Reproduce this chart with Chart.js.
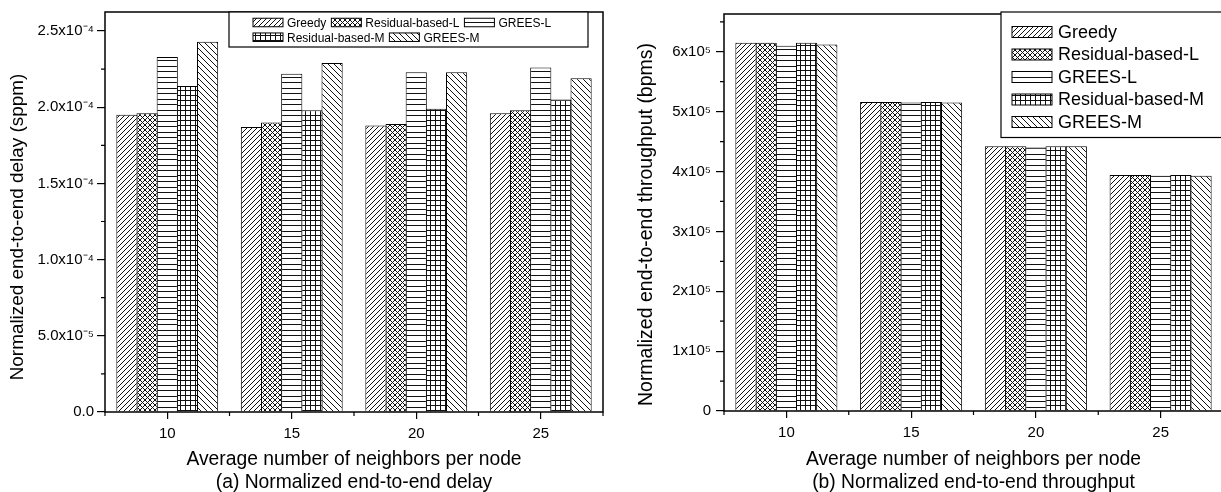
<!DOCTYPE html>
<html>
<head>
<meta charset="utf-8">
<script src="https://cdn.jsdelivr.net/npm/chart.js@4/dist/chart.umd.min.js"></script>
<style>
  html, body { margin: 0; padding: 0; background: #fff; overflow: hidden; }
  #wrap { position: relative; width: 1221px; height: 492px; overflow: hidden; }
  #delayChart { position: absolute; left: 0; top: 0; }
  #throughputChart { position: absolute; left: 610px; top: 0; }
</style>
</head>
<body>
<div id="wrap">
  <canvas id="delayChart" width="610" height="492"></canvas>
  <canvas id="throughputChart" width="620" height="492"></canvas>
</div>
<script>
// categories + series names
const neighbors = ['10', '15', '20', '25'];
const seriesNames = ['Greedy', 'Residual-based-L', 'GREES-L', 'Residual-based-M', 'GREES-M'];

// (a) delay, sppm
const delayGreedy = [1.95e-4, 1.87e-4, 1.88e-4, 1.96e-4];
const delayResidualL = [1.96e-4, 1.90e-4, 1.89e-4, 1.98e-4];
const delayGreesL = [2.33e-4, 2.22e-4, 2.23e-4, 2.26e-4];
const delayResidualM = [2.14e-4, 1.98e-4, 1.99e-4, 2.05e-4];
const delayGreesM = [2.43e-4, 2.29e-4, 2.23e-4, 2.19e-4];
const delayTickLabels = ['0.0', '5.0x10⁻⁵', '1.0x10⁻⁴', '1.5x10⁻⁴', '2.0x10⁻⁴', '2.5x10⁻⁴'];

// (b) throughput, bpms
const tputGreedy = [6.15e5, 5.16e5, 4.42e5, 3.94e5];
const tputResidualL = [6.15e5, 5.16e5, 4.42e5, 3.94e5];
const tputGreesL = [6.10e5, 5.15e5, 4.40e5, 3.93e5];
const tputResidualM = [6.15e5, 5.16e5, 4.42e5, 3.94e5];
const tputGreesM = [6.12e5, 5.15e5, 4.42e5, 3.93e5];
const tputTickLabels = ['0', '1x10⁵', '2x10⁵', '3x10⁵', '4x10⁵', '5x10⁵', '6x10⁵'];

const FONT = "'Liberation Sans', Arial, sans-serif";
const INK = '#111';

// hatch fills
function makePattern(kind) {
  const c = document.createElement('canvas');
  const s = kind === 'back' ? 6 : 5;
  c.width = s;
  c.height = kind === 'horiz' ? 11 : s;
  const g = c.getContext('2d');
  g.fillStyle = '#fff';
  g.fillRect(0, 0, c.width, c.height);
  g.strokeStyle = INK;
  g.fillStyle = INK;
  g.lineWidth = 1;
  if (kind === 'fwd' || kind === 'cross') {
    g.beginPath();
    g.moveTo(0, s); g.lineTo(s, 0);
    g.moveTo(-1, 1); g.lineTo(1, -1);
    g.moveTo(s - 1, s + 1); g.lineTo(s + 1, s - 1);
    g.stroke();
  }
  if (kind === 'back' || kind === 'cross') {
    g.beginPath();
    g.moveTo(0, 0); g.lineTo(s, s);
    g.moveTo(-1, s - 1); g.lineTo(1, s + 1);
    g.moveTo(s - 1, -1); g.lineTo(s + 1, 1);
    g.stroke();
  }
  if (kind === 'horiz') {
    g.fillRect(0, 0, c.width, 1);
    g.fillRect(0, 5, c.width, 1);
  }
  if (kind === 'grid') {
    g.fillRect(0, 0, s, 1);
    g.fillRect(0, 0, 1, s);
  }
  return g.createPattern(c, 'repeat');
}
const patterns = ['fwd', 'cross', 'horiz', 'grid', 'back'].map(makePattern);

// frame, minor ticks, y title and the boxed legend
const extrasPlugin = {
  id: 'extras',
  afterDatasetsDraw(chart) {
    const { ctx, chartArea: a } = chart;
    const xs = chart.scales.x, ys = chart.scales.y;
    const cfg = chart.options.plugins.extras;
    ctx.save();
    ctx.strokeStyle = '#000';
    ctx.lineWidth = 1.2;
    ctx.beginPath();
    for (let i = 0; i <= neighbors.length; i++) {
      const px = xs.getPixelForValue(i - 0.5);
      ctx.moveTo(px, a.bottom); ctx.lineTo(px, a.bottom + 4);
    }
    for (let v = cfg.step / 2; v <= ys.max; v += cfg.step) {
      const py = ys.getPixelForValue(v);
      ctx.moveTo(a.left - 4, py); ctx.lineTo(a.left, py);
    }
    ctx.stroke();
    ctx.lineWidth = 1.5;
    ctx.strokeRect(a.left, a.top, a.right - a.left, a.bottom - a.top);

    // y title, sits a little below the plot middle like the original
    ctx.save();
    ctx.translate(cfg.titleX, (a.top + a.bottom) / 2 + cfg.titleShift);
    ctx.rotate(-Math.PI / 2);
    ctx.font = cfg.titleSize + 'px ' + FONT;
    ctx.fillStyle = '#000';
    ctx.textAlign = 'center';
    ctx.textBaseline = 'middle';
    ctx.fillText(cfg.title, 0, 0);
    ctx.restore();

    const lg = cfg.legend;
    ctx.fillStyle = '#fff';
    ctx.fillRect(lg.x, lg.y, lg.w, lg.h);
    ctx.lineWidth = 1.2;
    ctx.strokeRect(lg.x, lg.y, lg.w, lg.h);
    ctx.font = lg.fontSize + 'px ' + FONT;
    ctx.textBaseline = 'middle';
    lg.rows.forEach((row, r) => {
      let x = lg.startX;
      const cy = lg.firstRow + r * lg.rowH;
      row.forEach(i => {
        const ds = chart.data.datasets[i];
        ctx.fillStyle = ds.backgroundColor;
        ctx.fillRect(x, cy - lg.swH / 2, lg.swW, lg.swH);
        ctx.lineWidth = 1;
        ctx.strokeStyle = '#000';
        ctx.strokeRect(x, cy - lg.swH / 2, lg.swW, lg.swH);
        x += lg.swW + lg.gap;
        ctx.fillStyle = '#000';
        ctx.fillText(ds.label, x, cy + 1);
        x += ctx.measureText(ds.label).width + lg.itemGap;
      });
    });
    ctx.restore();
  }
};

function buildChart(id, cfg) {
  return new Chart(document.getElementById(id), {
    type: 'bar',
    data: {
      labels: neighbors,
      datasets: seriesNames.map((name, i) => ({
        label: name,
        data: cfg.series[i],
        backgroundColor: patterns[i],
        borderColor: '#000',
        borderWidth: 1,
        barPercentage: 1.05,
        categoryPercentage: 0.81
      }))
    },
    options: {
      responsive: false,
      animation: false,
      devicePixelRatio: 1,
      layout: { padding: { left: 0, top: 10.5, right: 7, bottom: 0 } },
      plugins: {
        legend: { display: false },
        tooltip: { enabled: false },
        extras: {
          step: cfg.step, legend: cfg.legend,
          title: cfg.yTitle, titleSize: cfg.yTitleSize, titleX: cfg.titleX, titleShift: cfg.titleShift
        }
      },
      scales: {
        x: {
          offset: true,
          grid: { drawOnChartArea: false, drawTicks: true, tickLength: 7, color: '#000', lineWidth: 1.2, offset: false },
          border: { display: false },
          ticks: { color: '#000', font: { family: FONT, size: 15 }, padding: 6, maxRotation: 0, autoSkip: false },
          title: {
            display: true,
            text: ['Average number of neighbors per node', cfg.caption],
            color: '#000',
            font: { family: FONT, size: 19.3, lineHeight: 1.17 },
            padding: { top: 0, bottom: -1.5 }
          },
          afterFit(s) { s.height = cfg.xHeight; }
        },
        y: {
          min: 0,
          max: cfg.yMax,
          grid: { drawOnChartArea: false, drawTicks: true, tickLength: 8, color: '#000', lineWidth: 1.2 },
          border: { display: false },
          ticks: {
            autoSkip: false,
            color: '#000',
            font: { family: FONT, size: 15 },
            padding: cfg.tickPad,
            callback: (v, i) => cfg.tickLabels[i]
          },
          // one major tick per label, evenly spaced by step
          afterBuildTicks(s) {
            s.ticks = cfg.tickLabels.map((_, k) => ({ value: k * cfg.step }));
          },
          afterFit(s) { s.width = cfg.yWidth; }
        }
      }
    },
    plugins: [extrasPlugin]
  });
}

buildChart('delayChart', {
  series: [delayGreedy, delayResidualL, delayGreesL, delayResidualM, delayGreesM],
  yMax: 2.625e-4,
  step: 5e-5,
  tickLabels: delayTickLabels,
  yTitle: 'Normalized end-to-end delay (sppm)',
  yTitleSize: 18.9,
  titleX: 18,
  titleShift: 15,
  caption: '(a) Normalized end-to-end delay',
  yWidth: 105,
  xHeight: 80,
  tickPad: 3,
  legend: { x: 229, y: 12, w: 359, h: 35, rows: [[0, 1, 2], [3, 4]], startX: 253, firstRow: 22.5, rowH: 14.7,
            swW: 30, swH: 8.5, gap: 4, itemGap: 5, fontSize: 12 }
});

buildChart('throughputChart', {
  series: [tputGreedy, tputResidualL, tputGreesL, tputResidualM, tputGreesM],
  yMax: 6.63e5,
  step: 1e5,
  tickLabels: tputTickLabels,
  yTitle: 'Normalized end-to-end throughput (bpms)',
  yTitleSize: 19.5,
  titleX: 37,
  titleShift: 12,
  caption: '(b) Normalized end-to-end throughput',
  yWidth: 114,
  xHeight: 81,
  tickPad: 5,
  legend: { x: 391, y: 12, w: 240, h: 125.5, rows: [[0], [1], [2], [3], [4]], startX: 402, firstRow: 32, rowH: 22.5,
            swW: 40, swH: 11, gap: 6, itemGap: 0, fontSize: 18 }
});
</script>
</body>
</html>
